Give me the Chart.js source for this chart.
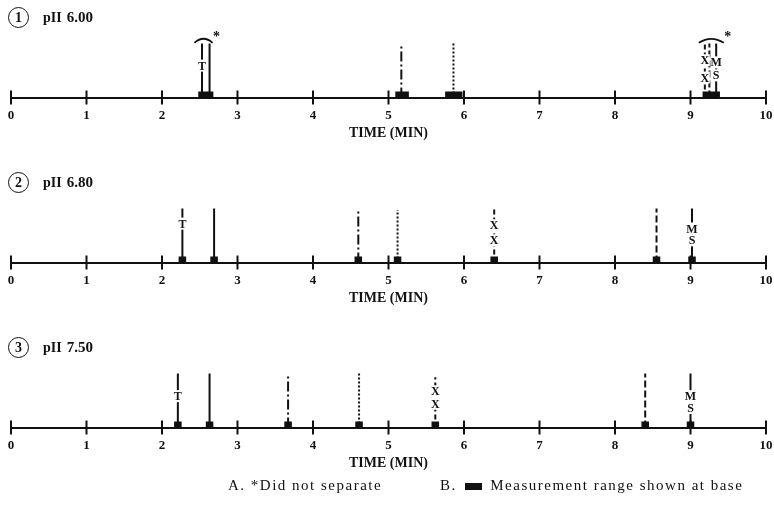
<!DOCTYPE html>
<html>
<head>
<meta charset="utf-8">
<script src="https://cdn.jsdelivr.net/npm/chart.js@4.4.1/dist/chart.umd.min.js"></script>
<style>
  body { margin: 0; background: #fff; width: 774px; height: 507px; position: relative; overflow: hidden; font-family: "Liberation Serif", "DejaVu Serif", serif; color: #111; }
  .panel { position: absolute; left: 0; width: 774px; height: 165px; }
  .panel canvas { position: absolute; left: 0; top: 0; }
  .hdr { position: absolute; left: 8px; top: 7px; font-weight: bold; white-space: nowrap; }
  .circ { display: inline-block; width: 19px; height: 19px; border: 1.6px solid #111; border-radius: 50%; text-align: center; line-height: 19px; font-size: 14px; vertical-align: middle; }
  .ph { font-size: 14px; margin-left: 14px; vertical-align: middle; }
  .phv { font-size: 15px; margin-left: 5px; vertical-align: middle; }
  .foot { position: absolute; top: 477px; font-size: 15px; letter-spacing: 1.5px; white-space: nowrap; }
  .sq { display: inline-block; width: 17px; height: 7px; background: #111; vertical-align: middle; margin: 0 3px; }
</style>
</head>
<body>

<div class="panel" style="top:0px"><canvas id="p1" width="774" height="165"></canvas>
  <div class="hdr"><span class="circ">1</span><span class="ph">pII</span><span class="phv">6.00</span></div></div>
<div class="panel" style="top:165px"><canvas id="p2" width="774" height="165"></canvas>
  <div class="hdr"><span class="circ">2</span><span class="ph">pII</span><span class="phv">6.80</span></div></div>
<div class="panel" style="top:330px"><canvas id="p3" width="774" height="165"></canvas>
  <div class="hdr"><span class="circ">3</span><span class="ph">pII</span><span class="phv">7.50</span></div></div>

<div class="foot" style="left:228px">A. *Did not separate</div>
<div class="foot" style="left:440px">B. <span class="sq"></span> Measurement range shown at base</div>

<script>
// time axis
const timeTicks = [0, 1, 2, 3, 4, 5, 6, 7, 8, 9, 10];

// the seven peaks, in elution order at pH 6.80 / 7.50
const peakKinds = ['T', 'solid', 'dashdot', 'dotted', 'XX', 'dashed', 'MS'];
const peakLabels = [['T'], [], [], [], ['X', 'X'], [], ['M', 'S']];

// retention times (min)
const rt600 = [2.53, 2.63, 5.17, 5.86, 9.19, 9.25, 9.34];
const rt680 = [2.27, 2.69, 4.60, 5.12, 6.40, 8.55, 9.02];
const rt750 = [2.21, 2.63, 3.67, 4.61, 5.62, 8.40, 9.00];

// peak heights (relative)
const h600 = [1, 1, 1, 1, 1, 1, 1];
const h680 = [1, 1, 0.96, 0.97, 1, 1, 1];
const h750 = [1, 1, 1, 1, 0.93, 1, 1];

// measurement ranges at the base (min)
const range600 = [[2.48, 2.68], [5.09, 5.27], [5.75, 5.98], [9.16, 9.39]];
const range680 = [[2.22, 2.32], [2.64, 2.74], [4.55, 4.65], [5.07, 5.17], [6.35, 6.45], [8.50, 8.60], [8.97, 9.07]];
const range750 = [[2.16, 2.26], [2.58, 2.68], [3.62, 3.72], [4.56, 4.66], [5.57, 5.67], [8.35, 8.45], [8.95, 9.05]];

// groups that did not separate (min)
const noSep600 = [[2.43, 2.67], [9.11, 9.44]];
const noSep680 = [];
const noSep750 = [];

// where the letters sit along each peak line (fraction of height)
const labelSpots = {
  p1: [[0.59], [], [], [], [0.69, 0.37], [], [0.65, 0.41]],
  p2: [[0.72], [], [], [], [0.69, 0.41], [], [0.63, 0.41]],
  p3: [[0.58], [], [], [], [0.67, 0.44], [], [0.58, 0.36]]
};

const dashes = { T: [], solid: [], dashdot: [10, 3, 2, 3], dotted: [2, 2], XX: [5, 3], dashed: [7, 3], MS: [] };
const ink = '#111';

const peakMarks = {
  id: 'peakMarks',
  afterDatasetsDraw(chart) {
    const cfg = chart.options.plugins.peakMarks;
    const ctx = chart.ctx;
    const xs = chart.scales.x, ys = chart.scales.y;
    const y0 = ys.getPixelForValue(0);
    ctx.save();
    // tick marks crossing the axis
    ctx.strokeStyle = ink;
    ctx.lineWidth = 2;
    timeTicks.forEach(v => {
      const px = xs.getPixelForValue(v);
      ctx.beginPath(); ctx.moveTo(px, y0 - 7); ctx.lineTo(px, y0 + 7); ctx.stroke();
    });
    // letters on the peak lines
    ctx.font = 'bold 12px "Liberation Serif", serif';
    ctx.textAlign = 'center';
    ctx.textBaseline = 'middle';
    cfg.rts.forEach((t, i) => {
      peakLabels[i].forEach((txt, j) => {
        const px = xs.getPixelForValue(t);
        const py = ys.getPixelForValue(cfg.spots[i][j]);
        ctx.fillStyle = '#fff';
        ctx.fillRect(px - 5, py - 6, 10, 12);
        ctx.fillStyle = ink;
        ctx.fillText(txt, px, py + 1);
      });
    });
    // arcs over unseparated groups
    cfg.noSep.forEach(g => {
      const a = xs.getPixelForValue(g[0]), b = xs.getPixelForValue(g[1]);
      const yt = ys.getPixelForValue(1.05);
      ctx.lineWidth = 1.8;
      ctx.beginPath();
      ctx.moveTo(a, yt + 2);
      ctx.quadraticCurveTo((a + b) / 2, yt - 6, b, yt + 2);
      ctx.stroke();
      ctx.font = 'bold 14px "Liberation Serif", serif';
      ctx.fillText('*', b + 4, ys.getPixelForValue(1.17) + 3);
    });
    ctx.restore();
  }
};

function makePanel(id, rts, heights, ranges, noSep) {
  const datasets = rts.map((t, i) => ({
    data: [{ x: t, y: 0 }, { x: t, y: heights[i] }],
    showLine: true,
    borderColor: ink,
    borderWidth: 2,
    borderDash: dashes[peakKinds[i]],
    borderCapStyle: 'butt',
    pointRadius: 0
  }));
  const pts = [];
  ranges.forEach(r => { pts.push({ x: r[0], y: 0.055 }, { x: r[1], y: 0.055 }, { x: r[1], y: null }); });
  datasets.push({
    data: pts, showLine: true, spanGaps: false, borderColor: ink, borderWidth: 6,
    borderCapStyle: 'butt', pointRadius: 0
  });

  new Chart(document.getElementById(id), {
    type: 'scatter',
    data: { datasets: datasets },
    options: {
      responsive: false,
      animation: false,
      layout: { padding: { left: 11, right: 8, top: 30, bottom: 23 } },
      plugins: {
        legend: { display: false },
        tooltip: { enabled: false },
        peakMarks: { rts: rts, spots: labelSpots[id], noSep: noSep }
      },
      scales: {
        x: {
          type: 'linear', min: 0, max: 10,
          afterBuildTicks: s => { s.ticks = timeTicks.map(v => ({ value: v })); },
          afterFit: s => { s.paddingLeft = 0; s.paddingRight = 0; },
          grid: { display: false },
          border: { display: true, color: ink, width: 2 },
          ticks: { color: ink, padding: 4, maxRotation: 0, font: { family: '"Liberation Serif", serif', size: 13, weight: 'bold', lineHeight: 0.9 } },
          title: { display: true, text: 'TIME (MIN)', color: ink, padding: { top: 0, bottom: 0 }, font: { family: '"Liberation Serif", serif', size: 14, weight: 'bold' } }
        },
        y: { display: false, min: 0, max: 1.25 }
      }
    },
    plugins: [peakMarks]
  });
}

makePanel('p1', rt600, h600, range600, noSep600);
makePanel('p2', rt680, h680, range680, noSep680);
makePanel('p3', rt750, h750, range750, noSep750);
</script>
</body>
</html>
